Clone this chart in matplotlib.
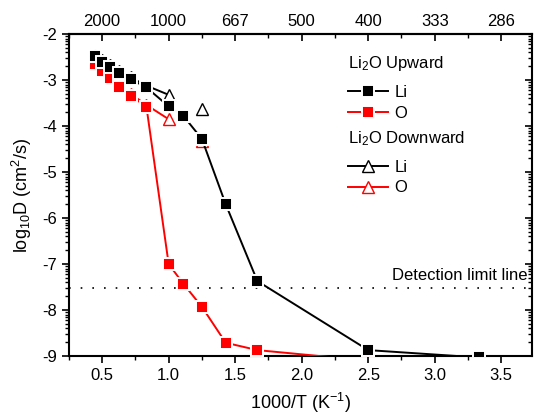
import numpy as np
import matplotlib
matplotlib.use("Agg")
import matplotlib.pyplot as plt
from matplotlib.ticker import FixedLocator, MultipleLocator

plt.rcParams['font.family'] = ['Liberation Sans', 'DejaVu Sans']
plt.rcParams['mathtext.default'] = 'regular'
plt.rcParams['axes.unicode_minus'] = False

# 1000/T (1/K) for 2250 ... 300 K
inv_T = [0.444, 0.5, 0.556, 0.625, 0.714, 0.833, 1.0, 1.111, 1.25, 1.429, 1.667, 2.5, 3.333]

# log10 D, heating run
li_up = [-2.48, -2.60, -2.71, -2.84, -2.98, -3.16, -3.57, -3.78, -4.28, -5.70, -7.37, -8.87, -9.03]
o_up = [-2.64, -2.80, -2.95, -3.15, -3.34, -3.58, -7.00, -7.43, -7.93, -8.71, -8.87, -9.10, -9.30]

# log10 D, cooling run (no 900 K point, stops at 800 K)
li_down = [-2.46, -2.57, -2.68, -2.81, -2.94, -3.12, -3.32, np.nan, -3.62, np.nan, np.nan, np.nan, np.nan]
o_down = [-2.62, -2.78, -2.93, -3.12, -3.30, -3.54, -3.85, np.nan, -4.33, np.nan, np.nan, np.nan, np.nan]

detect_limit = -7.53

top_ticks = [0.5, 1.0, 1.5, 2.0, 2.5, 3.0, 3.5]
top_labels = ['2000', '1000', '667', '500', '400', '333', '286']

fig = plt.figure(figsize=(5.34, 4.16), dpi=100)
ax = fig.add_axes([0.129, 0.144, 0.867, 0.774])

sq = dict(marker='s', markersize=9, markeredgecolor='white', markeredgewidth=1.4, lw=1.4)
tri = dict(marker='^', markersize=9, markerfacecolor='white', markeredgewidth=1.0, lw=1.4)

o_dn, = ax.plot(inv_T, o_down, color='red', markeredgecolor='red', zorder=2, **tri)
li_dn, = ax.plot(inv_T, li_down, color='black', markeredgecolor='black', zorder=3, **tri)
o_u, = ax.plot(inv_T, o_up, color='red', zorder=4, **sq)
li_u, = ax.plot(inv_T, li_up, color='black', zorder=5, **sq)

ax.axhline(detect_limit, color='black', lw=1.2, ls=(0, (1, 6)), zorder=1)
ax.text(3.70, detect_limit + 0.12, 'Detection limit line', ha='right', va='bottom', fontsize=12)

ax.set_xlim(0.25, 3.73)
ax.set_ylim(-9, -2)

ax.set_xticks(top_ticks)
ax.set_xticklabels(['0.5', '1.0', '1.5', '2.0', '2.5', '3.0', '3.5'])
ax.xaxis.set_minor_locator(MultipleLocator(0.25))

ax.set_yticks(np.arange(-9, -1, 1))
minor_y = [d + np.log10(k) for d in range(-9, -2) for k in range(2, 10)]
ax.yaxis.set_minor_locator(FixedLocator(minor_y))

ax.tick_params(axis='both', which='major', direction='out', length=5, width=1.2, labelsize=12)
ax.tick_params(axis='both', which='minor', direction='out', length=3, width=1.0)
ax.tick_params(axis='y', which='both', right=True, labelright=False)
# right-side ticks point inward
for t in ax.yaxis.get_ticklines(minor=False)[1::2] + ax.yaxis.get_ticklines(minor=True)[1::2]:
    t.set_marker(0)

for s in ax.spines.values():
    s.set_linewidth(1.5)

ax.set_xlabel('1000/T (K$^{-1}$)', fontsize=13, labelpad=6)
ax.set_ylabel('log$_{10}$D (cm$^2$/s)', fontsize=13, labelpad=6)

# temperature scale on top
top = ax.secondary_xaxis('top')
top.set_xticks(top_ticks)
top.set_xticklabels(top_labels)
top.xaxis.set_minor_locator(MultipleLocator(0.25))
top.tick_params(which='major', direction='in', length=5, width=1.2, labelsize=12, pad=4)
top.tick_params(which='minor', direction='in', length=3, width=1.0)
top.spines['top'].set_linewidth(1.5)

leg_kw = dict(alignment='left', loc='upper left', frameon=False, fontsize=12,
              title_fontsize=12, handlelength=2.4, handletextpad=0.4,
              borderpad=0, labelspacing=0.35, numpoints=1)
leg1 = ax.legend([li_u, o_u], ['Li', 'O'], title='Li$_2$O Upward',
                 bbox_to_anchor=(0.585, 0.964), **leg_kw)
leg1._legend_box.sep = 8.5
ax.add_artist(leg1)
leg2 = ax.legend([li_dn, o_dn], ['Li', 'O'], title='Li$_2$O Downward',
                 bbox_to_anchor=(0.585, 0.731), **leg_kw)
leg2._legend_box.sep = 8.5

fig.savefig('out.png', dpi=100)
